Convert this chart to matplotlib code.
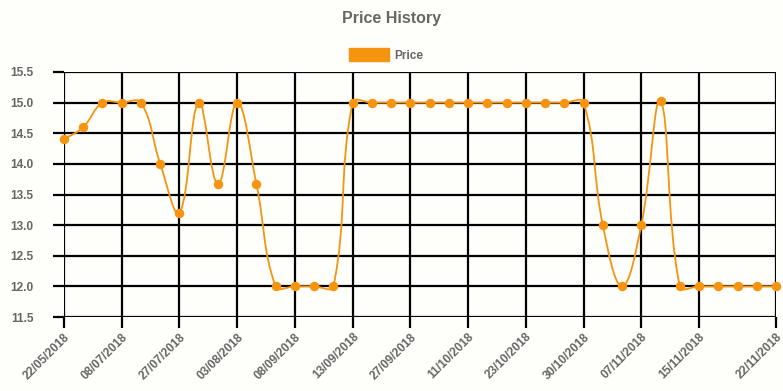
import numpy as np
import matplotlib
matplotlib.use('Agg')
import matplotlib.pyplot as plt
from matplotlib.path import Path
from matplotlib.patches import PathPatch, Patch

# data
prices = [14.4, 14.6, 15.0, 15.0, 15.0, 14.0, 13.2, 15.0, 13.67, 15.0,
          13.67, 12.0, 12.0, 12.0, 12.0, 15.0, 15.0, 15.0, 15.0, 15.0,
          15.0, 15.0, 15.0, 15.0, 15.0, 15.0, 15.0, 15.0, 13.0, 12.0,
          13.0, 15.03, 12.0, 12.0, 12.0, 12.0, 12.0, 12.0]
tick_idx = [0, 3, 6, 9, 12, 15, 18, 21, 24, 27, 30, 33, 37]
tick_labels = ['22/05/2018', '08/07/2018', '27/07/2018', '03/08/2018', '08/09/2018',
               '13/09/2018', '27/09/2018', '11/10/2018', '23/10/2018', '30/10/2018',
               '07/11/2018', '15/11/2018', '22/11/2018']
y_ticks = [11.5, 12.0, 12.5, 13.0, 13.5, 14.0, 14.5, 15.0, 15.5]

bg = '#fefefa'
grey = '#666666'
orange = '#f7940f'
plt.rcParams['font.family'] = ['Liberation Sans', 'DejaVu Sans']

W, H = 783, 391
fig = plt.figure(figsize=(W / 100, H / 100), dpi=100, facecolor=bg)
ax = fig.add_axes([64 / W, (H - 317) / H, (776 - 64) / W, (317 - 72) / H])
ax.set_facecolor(bg)
ax.set_xlim(0, len(prices) - 1)
ax.set_ylim(11.5, 15.5)

for s in ax.spines.values():
    s.set_visible(False)

ax.set_yticks(y_ticks)
ax.set_yticklabels(['%.1f' % v for v in y_ticks])
ax.set_xticks(tick_idx)
ax.set_xticklabels(tick_labels, rotation=45, ha='right', va='top', rotation_mode='anchor')
ax.tick_params(axis='both', colors='black', width=1.6, length=8, labelcolor=grey, labelsize=8.6)
ax.tick_params(axis='y', pad=14)
ax.tick_params(axis='x', pad=2)
for lab in ax.get_xticklabels() + ax.get_yticklabels():
    lab.set_fontweight('bold')
ax.grid(True, color='black', lw=1.6)
ax.set_axisbelow(True)

# chart.js style bezier (tension 0.4) computed in pixel space
x = np.arange(len(prices), dtype=float)
y = np.array(prices)
pts = ax.transData.transform(np.column_stack([x, y]))
n = len(pts)
t = 0.4
cp_prev = pts.copy()
cp_next = pts.copy()
for i in range(n):
    p0 = pts[i - 1] if i > 0 else pts[i]
    p2 = pts[i + 1] if i < n - 1 else pts[i]
    d01 = np.hypot(*(pts[i] - p0))
    d12 = np.hypot(*(p2 - pts[i]))
    tot = d01 + d12
    s01 = d01 / tot if tot else 0
    s12 = d12 / tot if tot else 0
    cp_prev[i] = pts[i] - t * s01 * (p2 - p0)
    cp_next[i] = pts[i] + t * s12 * (p2 - p0)

verts = [pts[0]]
codes = [Path.MOVETO]
for i in range(n - 1):
    verts += [cp_next[i], cp_prev[i + 1], pts[i + 1]]
    codes += [Path.CURVE4] * 3
verts = ax.transData.inverted().transform(np.array(verts))
ax.add_patch(PathPatch(Path(verts, codes), fill=False, edgecolor=orange, lw=1.3, zorder=3))
ax.plot(x, y, 'o', color=orange, ms=5.8, mec=orange, zorder=4, clip_on=False)

fig.text(0.5, (H - 18) / H, 'Price History', ha='center', va='center',
         fontsize=11.5, fontweight='bold', color=grey)
fig.legend(handles=[Patch(facecolor=orange, edgecolor=orange)], labels=['Price'],
           loc='center', bbox_to_anchor=(386 / W, (H - 55) / H), frameon=False,
           handlelength=3.4, handleheight=1.3, handletextpad=0.4,
           prop={'weight': 'bold', 'size': 8.6}, labelcolor=grey)

fig.savefig('out.png', dpi=100, facecolor=bg)
